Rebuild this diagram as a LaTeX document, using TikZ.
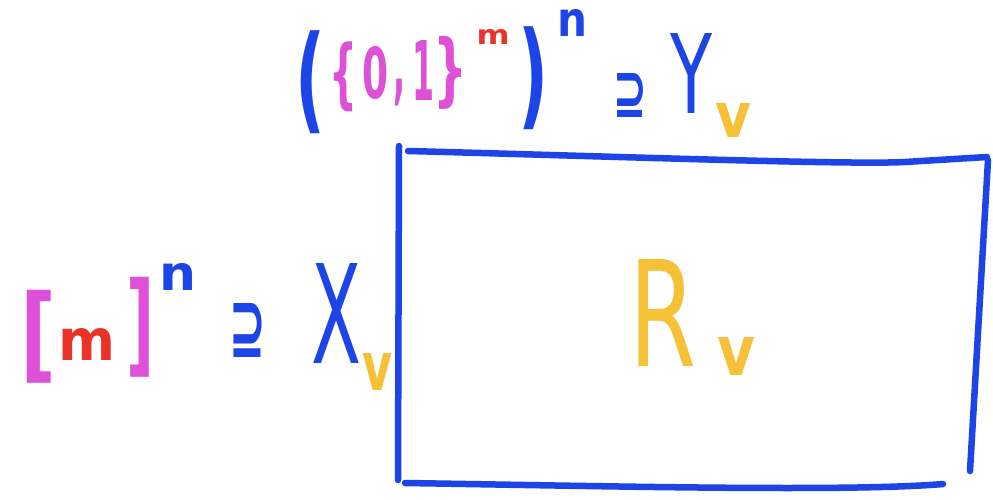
\documentclass[tikz,border=0pt]{standalone}
\usepackage{fontspec}
\setmainfont{DejaVu Sans}
\usepackage{graphicx}
\definecolor{pblue}{RGB}{28,68,230}
\definecolor{pmag}{RGB}{222,80,215}
\definecolor{pred}{RGB}{235,50,40}
\definecolor{pyel}{RGB}{246,192,55}
\newcommand{\gl}[3]{\resizebox*{#1pt}{#2pt}{\bfseries #3}}
\newcommand{\glr}[3]{\resizebox*{#1pt}{#2pt}{#3}}
\tikzset{
  glyph/.style={inner sep=0pt, outer sep=0pt, anchor=center},
  hand/.style={line width=6.5pt, line cap=round, line join=round, draw=pblue}
}
\begin{document}
\begin{tikzpicture}[x=1pt,y=-1pt]
\fill[white] (0,0) rectangle (993,499);
\useasboundingbox (0,0) rectangle (993,499);
% box
\draw[hand] (399,146) -- (398,480);
\draw[hand] (408,151) .. controls (600,156) and (850,165) .. (905,162) -- (987,157);
\draw[hand] (988,160) -- (970,471);
\draw[hand] (405,483) .. controls (600,486) and (850,492) .. (943,484);
% top label
\node[glyph, text=pblue] (lp) at (310,82) {\gl{30}{103}{(}};
\node[glyph, text=pmag] (lb) at (343,77) {\gl{28}{70}{\{}};
\node[glyph, text=pmag] (z) at (375,73) {\gl{26}{53}{0}};
\node[glyph, text=pmag] (cm) at (399,93) {\gl{12}{27}{,}};
\node[glyph, text=pmag] (o) at (423,70) {\gl{22}{60}{1}};
\node[glyph, text=pmag] (rb) at (450,73) {\gl{34}{73}{\}}};
\node[glyph, text=pred] (mt) at (493,37) {\gl{33}{15}{m}};
\node[glyph, text=pblue] (rp) at (533,78) {\gl{30}{103}{)}};
\node[glyph, text=pblue] (nt) at (572,23) {\gl{30}{27}{n}};
\node[glyph, text=pblue] (st) at (630,95) {\gl{34}{44}{⊇}};
\node[glyph, text=pblue] (Y) at (692,73) {\glr{42}{80}{Y}};
\node[glyph, text=pyel] (vy) at (733,120) {\gl{36}{34}{v}};
% left label
\node[glyph, text=pmag] (lsb) at (38,337) {\gl{36}{93}{[}};
\node[glyph, text=pred] (ml) at (87,344) {\gl{57}{32}{m}};
\node[glyph, text=pmag] (rsb) at (140,327) {\gl{28}{100}{]}};
\node[glyph, text=pblue] (nl) at (178,277) {\gl{37}{27}{n}};
\node[glyph, text=pblue] (sl) at (248,330) {\gl{37}{54}{⊇}};
\node[glyph, text=pblue] (X) at (337,313) {\glr{50}{100}{X}};
\node[glyph, text=pyel] (vx) at (377,372) {\gl{30}{37}{v}};
% R
\node[glyph, text=pyel] (R) at (663,313) {\glr{67}{107}{R}};
\node[glyph, text=pyel] (vr) at (736,356) {\gl{38}{38}{v}};
\end{tikzpicture}
\end{document}
